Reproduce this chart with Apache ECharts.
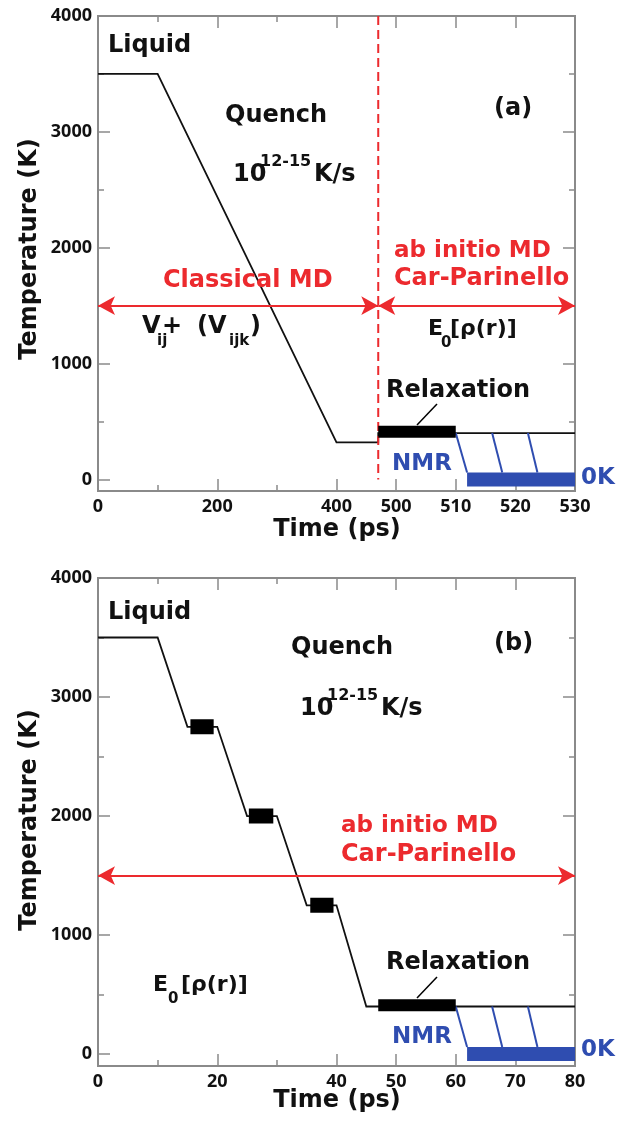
<!DOCTYPE html>
<html><head><meta charset="utf-8">
<script src="https://cdn.jsdelivr.net/npm/echarts@6/dist/echarts.min.js"></script>
<style>html,body{margin:0;padding:0;background:#fff}#c{width:617px;height:1122px}</style>
</head><body><div id="c"></div>
<script>
// ---------- Panel (a): broken time axis (ps) ----------
const tickValsA_ps = [0, 200, 400, 500, 510, 520, 530];
const tickLabelsA = ['0', '200', '400', '500', '510', '520', '530'];
const minorTicksA_ps = [100, 300];
const tempA_time = [0, 100, 400, 470, 470, 530];
const tempA_val  = [3500, 3500, 320, 320, 400, 400];
const relaxA_time = [470, 510];
const relaxA_T = 412;
const nmrBarA_time = [511.9, 530];
const nmrBar_T = 0;
const nmrSlantsA_top = [510, 516.1, 522.1];
const nmrSlantsA_bot = [511.9, 517.8, 523.7];
const slantTop_T = 400, slantBot_T = 60;
const dashA_time = 470;
const arrow_T = 1500;

// ---------- Panel (b): linear time axis (ps) ----------
const tickValsB = [0, 20, 40, 50, 60, 70, 80];
const tickLabelsB = ['0', '20', '40', '50', '60', '70', '80'];
const minorTicksB = [10, 30];
const tempB_time = [0, 10, 15, 20, 25, 30, 35, 40, 45, 80];
const tempB_val  = [3500, 3500, 2750, 2750, 2000, 2000, 1250, 1250, 400, 400];
const holdsB_start = [15.5, 25.3, 35.6];
const holdsB_end   = [19.4, 29.4, 39.5];
const holdsB_T     = [2750, 2000, 1250];
const relaxB_time = [47, 60];
const relaxB_T = 410;
const nmrBarB_time = [61.9, 80];
const nmrSlantsB_top = [60, 66.1, 72.1];
const nmrSlantsB_bot = [61.9, 67.8, 73.7];

// ---------- Temperature axis ----------
const yTicks = [0, 1000, 2000, 3000, 4000];
const yMinor = [500, 1500, 2500, 3500];
const yMin = -100, yMax = 4000;

// broken-axis mapping for panel (a): 0–500 ps at 100 ps/unit, 500–530 at 10 ps/unit
function ta(t) { return t <= 500 ? t / 100 : 5 + (t - 500) / 10; }

const FONT = '"DejaVu Sans", Verdana, sans-serif';
const TICKFONT = '"Open Sans", "DejaVu Sans", sans-serif';
const AX = '#8a8a8a';
const RED = '#ec2a2e';
const BLUE = '#2f4db0';
const BLACK = '#111';

function axisSet(kind, grid, min, max, majors, minors, labelFn) {
  const out = [];
  const positions = kind === 'x' ? ['bottom', 'top'] : ['left', 'right'];
  positions.forEach((pos, pi) => {
    [[majors, 12], [minors, 6]].forEach(([vals, len], mi) => {
      out.push({
        type: 'value', gridIndex: grid, position: pos, min: min, max: max,
        axisLine: { show: true, onZero: false, lineStyle: { color: AX, width: 2 } },
        axisTick: { show: true, inside: true, length: len, customValues: vals, lineStyle: { color: AX, width: 1.5 } },
        axisLabel: (pi === 0 && mi === 0) ? {
          show: true, customValues: majors, formatter: labelFn,
          fontFamily: TICKFONT, fontWeight: 'bold', fontSize: 18, color: BLACK, margin: kind === 'x' ? 7 : 6
        } : { show: false },
        splitLine: { show: false }
      });
    });
  });
  return out;
}

const xA = axisSet('x', 0, 0, 8, tickValsA_ps.map(ta), minorTicksA_ps.map(ta),
  v => { const i = tickValsA_ps.map(ta).findIndex(u => Math.abs(u - v) < 1e-6); return i >= 0 ? tickLabelsA[i] : ''; });
const xB = axisSet('x', 1, 0, 80, tickValsB, minorTicksB,
  v => { const i = tickValsB.indexOf(v); return i >= 0 ? tickLabelsB[i] : ''; });
const yLab = v => String(v);
const yA = axisSet('y', 0, yMin, yMax, yTicks, yMinor, yLab);
const yB = axisSet('y', 1, yMin, yMax, yTicks, yMinor, yLab);

function seg(name, xi, pts, color, width, extra) {
  return Object.assign({
    type: 'line', name: name, xAxisIndex: xi, yAxisIndex: xi, data: pts,
    symbol: 'none', silent: true, animation: false,
    lineStyle: { color: color, width: width, cap: 'butt', join: 'miter' }
  }, extra || {});
}

const series = [];
// panel (a)
series.push(seg('tempA', 0, tempA_time.map((t, i) => [ta(t), tempA_val[i]]), BLACK, 1.8));
series.push(seg('dashA', 0, [[ta(dashA_time), yMax], [ta(dashA_time), 0]], RED, 2, {
  lineStyle: { color: RED, width: 2, type: [9, 5] }
}));
series.push(seg('relaxA', 0, relaxA_time.map(t => [ta(t), relaxA_T]), '#000', 12, { z: 4 }));
nmrSlantsA_top.forEach((t, i) => series.push(seg('slantA' + i, 0,
  [[ta(t), slantTop_T], [ta(nmrSlantsA_bot[i]), slantBot_T]], BLUE, 2)));
series.push(seg('nmrA', 0, nmrBarA_time.map(t => [ta(t), nmrBar_T]), BLUE, 14, { z: 4 }));
series.push({
  type: 'line', xAxisIndex: 0, yAxisIndex: 0, data: [], silent: true, animation: false,
  markLine: {
    silent: true, symbol: ['arrow', 'arrow'], symbolSize: [14, 17], label: { show: false },
    lineStyle: { color: RED, width: 2, type: 'solid' },
    data: [
      [{ coord: [0, arrow_T] }, { coord: [ta(dashA_time), arrow_T] }],
      [{ coord: [ta(dashA_time), arrow_T] }, { coord: [8, arrow_T] }]
    ]
  }
});
// panel (b)
series.push(seg('tempB', 4, tempB_time.map((t, i) => [t, tempB_val[i]]), BLACK, 1.8));
holdsB_start.forEach((t, i) => series.push(seg('holdB' + i, 4,
  [[t, holdsB_T[i]], [holdsB_end[i], holdsB_T[i]]], '#000', 15, { z: 4 })));
series.push(seg('relaxB', 4, relaxB_time.map(t => [t, relaxB_T]), '#000', 12, { z: 4 }));
nmrSlantsB_top.forEach((t, i) => series.push(seg('slantB' + i, 4,
  [[t, slantTop_T], [nmrSlantsB_bot[i], slantBot_T]], BLUE, 2)));
series.push(seg('nmrB', 4, nmrBarB_time.map(t => [t, nmrBar_T]), BLUE, 14, { z: 4 }));
series.push({
  type: 'line', xAxisIndex: 4, yAxisIndex: 4, data: [], silent: true, animation: false,
  markLine: {
    silent: true, symbol: ['arrow', 'arrow'], symbolSize: [14, 17], label: { show: false },
    lineStyle: { color: RED, width: 2, type: 'solid' },
    data: [[{ coord: [0, arrow_T] }, { coord: [80, arrow_T] }]]
  }
});

function txt(s, x, y, size, color, opts) {
  return Object.assign({
    type: 'text', x: x, y: y, z: 10, silent: true,
    style: Object.assign({
      text: s, fontFamily: FONT, fontWeight: 'bold', fontSize: size, fill: color || BLACK,
      align: 'left', verticalAlign: 'middle'
    }, (opts && opts.style) || {})
  }, (opts && opts.el) || {});
}

const graphics = [
  // panel (a)
  txt('Liquid', 108, 46, 24),
  txt('Quench', 225, 116, 24),
  txt('10', 233, 175, 24),
  txt('12-15', 260, 162, 16),
  txt('K/s', 314, 175, 24),
  txt('(a)', 494, 109, 24),
  txt('Classical MD', 163, 281, 24, RED),
  txt('ab initio MD', 394, 251, 23, RED),
  txt('Car-Parinello', 394, 279, 24, RED),
  txt('V', 142, 327, 24),
  txt('ij', 157, 341, 15),
  txt('+', 162, 327, 24),
  txt('(V', 197, 327, 24),
  txt('ijk', 229, 341, 15),
  txt(')', 250, 327, 24),
  txt('E', 428, 329, 22),
  txt('0', 441, 343, 15),
  txt('[ρ(r)]', 450, 329, 22),
  txt('Relaxation', 386, 391, 24),
  { type: 'line', z: 10, silent: true, shape: { x1: 437, y1: 404, x2: 417, y2: 425 }, style: { stroke: '#000', lineWidth: 1.5 } },
  txt('NMR', 392, 464, 23, BLUE),
  txt('0K', 581, 478, 23, BLUE),
  txt('Time (ps)', 337, 530, 24, BLACK, { style: { align: 'center' } }),
  txt('Temperature (K)', 30, 249, 24, BLACK, { style: { align: 'center' }, el: { rotation: Math.PI / 2 } }),
  // panel (b)
  txt('Liquid', 108, 613, 24),
  txt('Quench', 291, 648, 24),
  txt('10', 300, 709, 24),
  txt('12-15', 327, 696, 16),
  txt('K/s', 381, 709, 24),
  txt('(b)', 494, 644, 24),
  txt('ab initio MD', 341, 826, 23, RED),
  txt('Car-Parinello', 341, 855, 24, RED),
  txt('E', 153, 985, 22),
  txt('0', 168, 999, 15),
  txt('[ρ(r)]', 181, 985, 22),
  txt('Relaxation', 386, 963, 24),
  { type: 'line', z: 10, silent: true, shape: { x1: 437, y1: 977, x2: 417, y2: 998 }, style: { stroke: '#000', lineWidth: 1.5 } },
  txt('NMR', 392, 1037, 23, BLUE),
  txt('0K', 581, 1050, 23, BLUE),
  txt('Time (ps)', 337, 1101, 24, BLACK, { style: { align: 'center' } }),
  txt('Temperature (K)', 30, 820, 24, BLACK, { style: { align: 'center' }, el: { rotation: Math.PI / 2 } })
];

const chart = echarts.init(document.getElementById('c'), null, { renderer: 'canvas' });
chart.setOption({
  animation: false,
  backgroundColor: '#fff',
  grid: [
    { left: 98, top: 16, width: 477, height: 475 },
    { left: 98, top: 578, width: 477, height: 488 }
  ],
  xAxis: xA.concat(xB),
  yAxis: yA.concat(yB),
  series: series,
  graphic: graphics
});
</script>
</body></html>
